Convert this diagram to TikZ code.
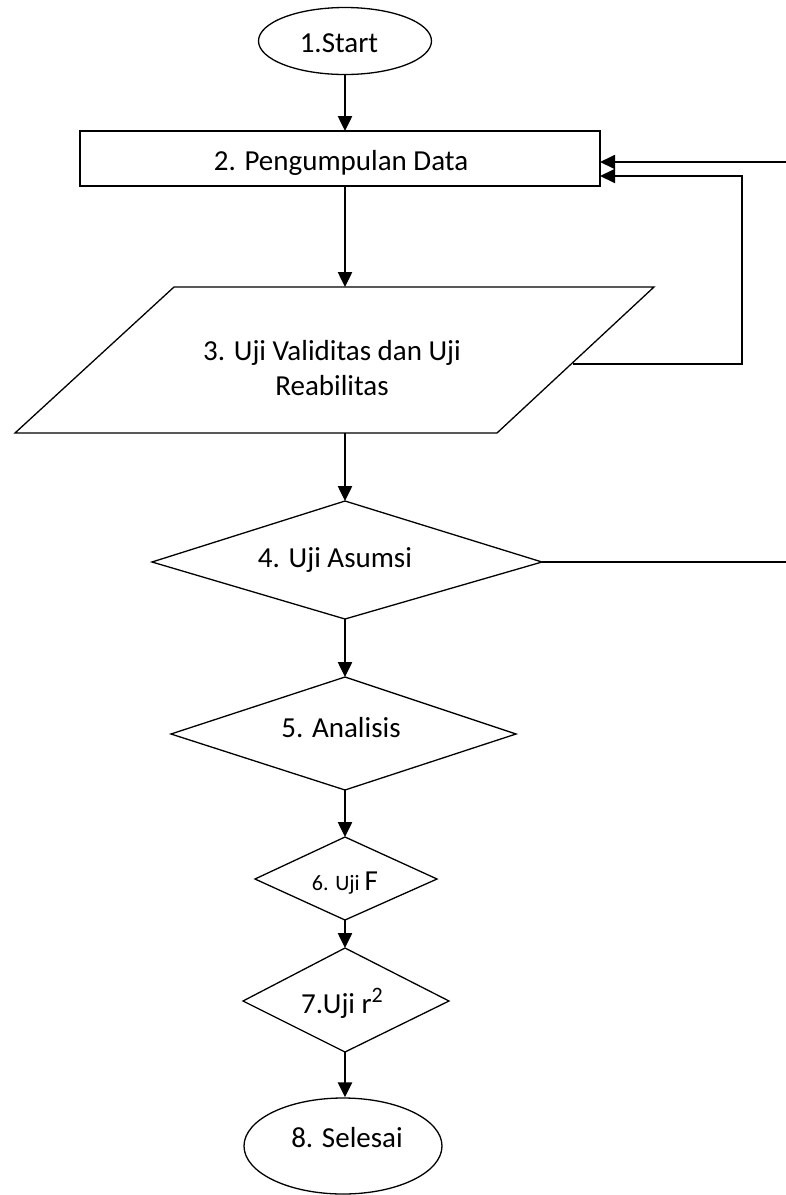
\documentclass[tikz,border=0pt]{standalone}
\usepackage{fontspec}
\setmainfont{Carlito}
\usetikzlibrary{arrows.meta,shapes.geometric}
\begin{document}
\begin{tikzpicture}[x=1pt,y=-1pt,
  shp/.style={draw=black,line width=1.3pt},
  lbl/.style={font=\fontsize{29}{35}\selectfont,align=center,inner sep=0pt,anchor=base},
  tip/.style={-{Triangle[length=15pt,width=14pt]}},
  arr/.style={draw=black,line width=2.5pt,tip},
  ln/.style={draw=black,line width=1.8pt}]
\useasboundingbox (0,0) rectangle (786,1195);
\fill[white] (0,0) rectangle (786,1195);
% 1 start
\node[shp,ellipse,minimum width=173pt,minimum height=67pt,inner sep=0pt] (start) at (345,41) {};
\node[lbl] (startt) at (339,52) {1.Start};
% 2 rectangle
\coordinate (r2tl) at (80,131);
\coordinate (r2br) at (600,186);
\draw[shp] (r2tl) rectangle (r2br);
\node[lbl] (r2t) at (341,170) {2. Pengumpulan Data};
\coordinate (r2top) at (345,131);
\coordinate (r2bot) at (345,186);
\coordinate (r2in1) at (600,162);
\coordinate (r2in2) at (600,176);
% 3 parallelogram
\coordinate (p3a) at (174,287);
\coordinate (p3b) at (654,287);
\coordinate (p3c) at (497,433);
\coordinate (p3d) at (15,433);
\draw[shp] (p3a) -- (p3b) -- (p3c) -- (p3d) -- cycle;
\node[lbl] (p3t1) at (332,360) {3. Uji Validitas dan Uji};
\node[lbl] (p3t2) at (332,395) {Reabilitas};
\coordinate (p3top) at (345,287);
\coordinate (p3bot) at (345,433);
\coordinate (p3out) at (573,364);
% 4 diamond
\coordinate (d4t) at (345,501);
\coordinate (d4r) at (542,562);
\coordinate (d4b) at (345,619);
\coordinate (d4l) at (152,562);
\draw[shp] (d4t) -- (d4r) -- (d4b) -- (d4l) -- cycle;
\node[lbl] (d4x) at (335,567) {4. Uji Asumsi};
% 5 diamond
\coordinate (d5t) at (345,677);
\coordinate (d5r) at (516,734);
\coordinate (d5b) at (345,790);
\coordinate (d5l) at (171,734);
\draw[shp] (d5t) -- (d5r) -- (d5b) -- (d5l) -- cycle;
\node[lbl] (d5x) at (341,737) {5. Analisis};
% 6 diamond
\coordinate (d6t) at (345,837);
\coordinate (d6r) at (437,879);
\coordinate (d6b) at (345,920);
\coordinate (d6l) at (255,879);
\draw[shp] (d6t) -- (d6r) -- (d6b) -- (d6l) -- cycle;
\node[lbl] (d6x) at (345,890) {{\fontsize{22}{26}\selectfont 6. Uji }F};
% 7 diamond
\coordinate (d7t) at (345,948);
\coordinate (d7r) at (449,1001);
\coordinate (d7b) at (345,1052);
\coordinate (d7l) at (243,1001);
\draw[shp] (d7t) -- (d7r) -- (d7b) -- (d7l) -- cycle;
\node[lbl] (d7x) at (342,1013) {7.Uji r\raisebox{11pt}{\fontsize{22}{26}\selectfont 2}};
% 8 end
\node[shp,ellipse,minimum width=198pt,minimum height=96pt,inner sep=0pt] (fin) at (343,1146) {};
\node[lbl] (fint) at (347,1147) {8. Selesai};
% feedback points
\coordinate (fb1) at (742,364);
\coordinate (fb2) at (742,176);
\coordinate (fe1) at (786,162);
\coordinate (fe2) at (786,562);
% arrows
\draw[arr] (start.south -| r2top) -- (r2top);
\draw[arr] (r2bot) -- (p3top);
\draw[arr] (p3bot) -- (d4t);
\draw[arr] (d4b) -- (d5t);
\draw[arr] (d5b) -- (d6t);
\draw[arr] (d6b) -- (d7t);
\draw[arr] (d7b) -- (d7b |- fin.north);
\draw[ln,tip] (p3out) -- (fb1) -- (fb2) -- (r2in2);
\draw[ln,tip] (fe1) -- (r2in1);
\draw[ln] (d4r) -- (fe2);
\end{tikzpicture}
\end{document}
